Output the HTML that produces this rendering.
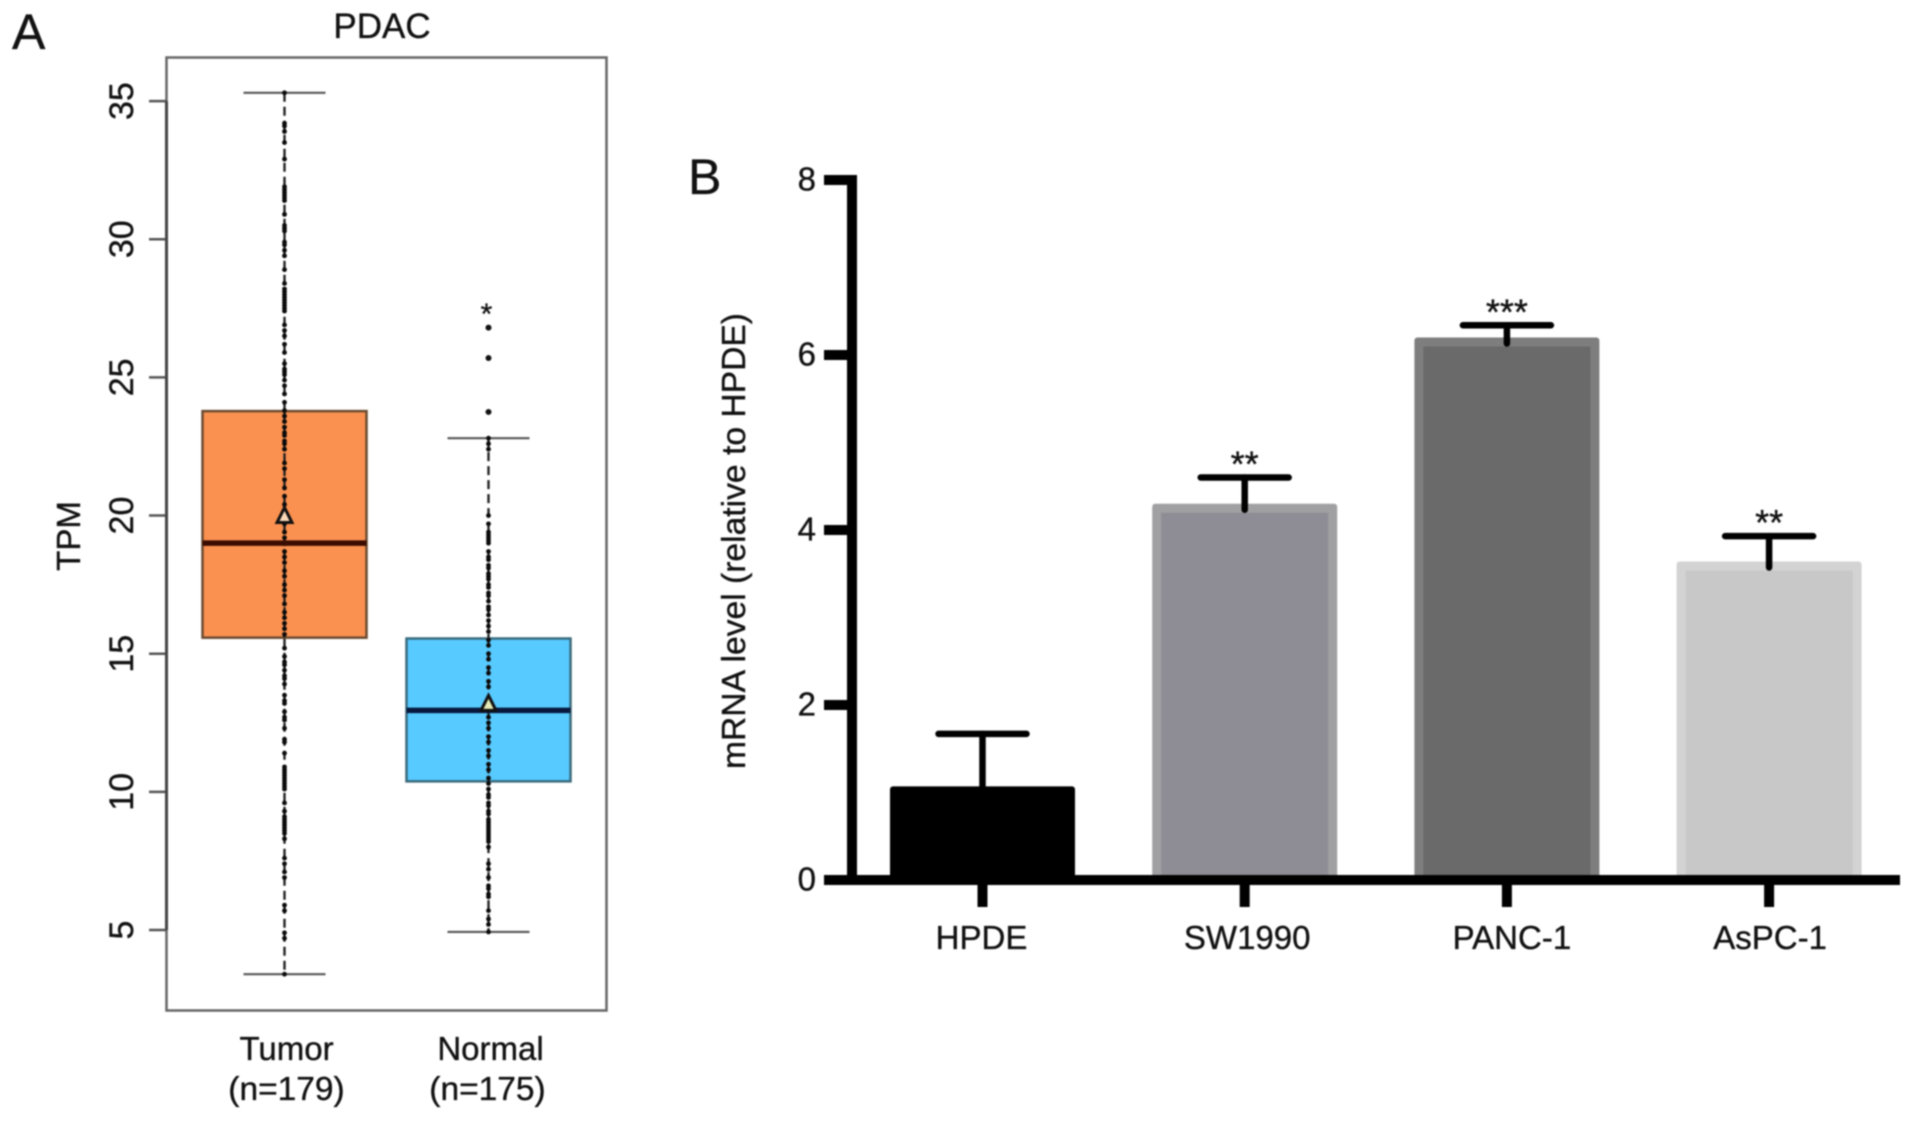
<!DOCTYPE html>
<html lang="en">
<head>
<meta charset="utf-8">
<title>PDAC expression and mRNA level</title>
<style>
html,body{margin:0;padding:0;background:#fff;width:1913px;height:1121px;overflow:hidden}
svg{display:block;filter:blur(0.7px)}
text{font-family:"Liberation Sans",Arial,sans-serif;fill:#111;stroke:#111;stroke-width:0.35px}
</style>
</head>
<body>
<svg id="fig" xmlns="http://www.w3.org/2000/svg" width="1913" height="1121" viewBox="0 0 1913 1121">
  <rect width="1913" height="1121" fill="#fff"/>
  <text x="12" y="49" font-size="50">A</text>
  <text x="688" y="194" font-size="50">B</text>
  <text x="382" y="38" font-size="35" text-anchor="middle">PDAC</text>
  <rect x="166.5" y="57.5" width="440" height="953" fill="none" stroke="#666" stroke-width="2.5"/>
  <text transform="translate(80,536) rotate(-90)" font-size="33" text-anchor="middle">TPM</text>
  <text transform="translate(745,541) rotate(-90)" font-size="33" text-anchor="middle" textLength="456" lengthAdjust="spacingAndGlyphs">mRNA level (relative to HPDE)</text>
  <g id="panelA"></g>
  <g id="panelB"></g>
</svg>
<script>
// Panel A values (TPM)
const boxGroups = ["Tumor", "Normal"];
const boxCounts = ["(n=179)", "(n=175)"];
const boxQ1 = [15.58, 10.38];
const boxQ3 = [23.78, 15.55];
const boxMedian = [19.0, 12.95];
const boxMean = [20.0, 13.2];
const boxWhiskerLow = [3.4, 4.93];
const boxWhiskerHigh = [35.3, 22.8];
const boxTicks = [5, 10, 15, 20, 25, 30, 35];
const normalOutliers = [26.8, 25.7, 23.75];
const normalStarOutliers = [27.4];
const tumorPoints = [35.3,34.2,34.1,33.9,33.5,32.9,31.9,31.8,31.7,31.6,31.5,31.4,30.9,30.5,30.4,30.3,29.9,29.8,29.6,29.4,28.9,28.4,28.2,28.1,28.0,27.9,27.8,27.7,27.6,27.5,27.4,26.9,26.7,26.5,26.2,25.9,25.5,25.3,25.2,25.1,24.9,24.7,24.4,24.1,23.8,23.6,23.4,23.2,23.0,22.9,22.7,22.6,22.4,21.9,21.7,21.3,21.0,20.7,20.4,19.7,19.4,19.2,19.0,18.7,18.5,18.3,18.0,17.8,17.5,17.3,17.1,16.8,16.5,16.3,16.1,15.9,15.7,15.2,14.9,14.7,14.6,14.4,14.2,14.1,13.9,13.5,13.3,13.2,12.9,12.7,12.6,12.3,11.9,11.8,11.4,10.9,10.8,10.7,10.6,10.5,10.4,10.3,10.2,10.1,9.6,9.3,9.1,9.0,8.9,8.8,8.7,8.6,8.5,8.3,7.6,7.4,7.1,6.9,5.9,5.7,4.9,4.7,3.4];
const normalPoints = [22.8,22.6,22.4,20.0,19.7,19.4,19.3,19.2,19.1,19.0,18.7,18.5,18.4,18.2,18.1,17.9,17.8,17.7,17.5,17.4,17.2,17.1,16.9,16.7,16.6,16.4,16.2,16.0,15.8,15.5,15.3,15.0,14.8,14.5,14.3,14.0,13.8,13.3,13.0,12.7,12.5,12.3,12.0,11.8,11.5,11.3,11.0,10.8,10.5,10.3,10.1,9.9,9.8,9.6,9.5,9.3,9.2,9.0,8.9,8.8,8.7,8.6,8.5,8.4,8.3,8.2,8.0,7.4,7.2,6.9,6.6,6.5,6.3,6.2,5.7,5.4,5.2,4.93];

// Panel B values (mRNA relative to HPDE)
const barCategories = ["HPDE", "SW1990", "PANC-1", "AsPC-1"];
const barValues = [1.07, 4.3, 6.2, 3.64];
const barErrorTops = [1.67, 4.6, 6.34, 3.93];
const barStars = ["", "**", "***", "**"];
const barTicks = [0, 2, 4, 6, 8];

const NS = "http://www.w3.org/2000/svg";
const panelA = document.getElementById("panelA");
const panelB = document.getElementById("panelB");

function yA(v){ return 930 - (v - 5) * 27.63; }
function yB(v){ return 880 - v * 87.5; }
function xA(i){ return 284.5 + i * 204; }
function xB(i){ return 982.5 + i * 262.2; }

function mk(parent, tag, attrs, txt){
  const e = document.createElementNS(NS, tag);
  for (const k in attrs) e.setAttribute(k, attrs[k]);
  if (txt !== undefined) e.textContent = txt;
  parent.appendChild(e);
  return e;
}

// ---------- Panel A ----------
const boxFills = ["#fb9150", "#57caff"];
const boxEdges = ["#6a4a30", "#3a6a7c"];
const medianColors = ["#3a0c02", "#07183e"];
const triFills = ["#fbd9b8", "#e4ebb4"];
const pointSets = [tumorPoints, normalPoints];
const labelShift = [1, 1];
const countShift = [1, -2];

boxTicks.forEach(function(t){
  const tk = mk(panelA, "line", {x1:149, x2:166.5, y1:yA(t), y2:yA(t), stroke:"#555", "stroke-width":2.5});
  
  
  const lb = mk(panelA, "text", {transform:"translate(133," + yA(t) + ") rotate(-90)", "font-size":34, "text-anchor":"middle"}, String(t));
  
  
});
const axA = mk(panelA, "line", {x1:166.5, x2:166.5, y1:yA(35), y2:yA(5), stroke:"#444", "stroke-width":3});



boxGroups.forEach(function(g, i){
  const cx = xA(i);
  const wh = mk(panelA, "line", {x1:cx, x2:cx, y1:yA(boxWhiskerHigh[i]), y2:yA(boxWhiskerLow[i]), stroke:"#222", "stroke-width":2.4, "stroke-dasharray":"9 5"});
  
  
  [boxWhiskerHigh[i], boxWhiskerLow[i]].forEach(function(v){
    const cap = mk(panelA, "line", {x1:cx - 41, x2:cx + 41, y1:yA(v), y2:yA(v), stroke:"#555", "stroke-width":2.2});
    
    
  });
  const box = mk(panelA, "rect", {x:cx - 82, y:yA(boxQ3[i]), width:164, height:yA(boxQ1[i]) - yA(boxQ3[i]), fill:boxFills[i], stroke:boxEdges[i], "stroke-width":2.5});
  
  
  const dash = mk(panelA, "line", {x1:cx, x2:cx, y1:yA(boxQ3[i]), y2:yA(boxQ1[i]), stroke:"#222", "stroke-width":2.4, "stroke-dasharray":"9 5"});
  
  
  pointSets[i].forEach(function(v){
    const p = mk(panelA, "circle", {cx:cx, cy:yA(v), r:2.4, fill:"#0a0a0a"});
    
    
  });
  const med = mk(panelA, "line", {x1:cx - 82, x2:cx + 82, y1:yA(boxMedian[i]), y2:yA(boxMedian[i]), stroke:medianColors[i], "stroke-width":5.5});
  
  
  const my = yA(boxMean[i]);
  const tri = mk(panelA, "polygon", {points:(cx - 7.5) + "," + (my + 7) + " " + (cx + 7.5) + "," + (my + 7) + " " + cx + "," + (my - 8), fill:triFills[i], stroke:"#111", "stroke-width":3});
  
  
  const l1 = mk(panelA, "text", {x:cx + labelShift[i] + 1, y:1060, "font-size":33, "text-anchor":"middle"}, g);
  
  
  const l2 = mk(panelA, "text", {x:cx + countShift[i] + 1, y:1100, "font-size":33.5, "text-anchor":"middle"}, boxCounts[i]);
  
  
});
normalOutliers.forEach(function(v){
  const o = mk(panelA, "circle", {cx:xA(1), cy:yA(v), r:3, fill:"#111"});
  
  
});
normalStarOutliers.forEach(function(v){
  const s = mk(panelA, "text", {x:xA(1) - 2, y:yA(v) + 13, "font-size":30, "text-anchor":"middle"}, "*");
  
  
});

// ---------- Panel B ----------
const barOuter = ["#000000", "#a0a0a2", "#7e7e7e", "#d3d3d3"];
const barInner = ["#000000", "#8e8d95", "#6a6a6a", "#c8c8c8"];
const xLabelShift = [-1, 2.5, 5, 1];
const barHalf = 92.5;
const barInset = 9;

barCategories.forEach(function(c, i){
  const cx = xB(i), top = yB(barValues[i]), bottom = yB(0);
  const o = mk(panelB, "rect", {x:cx - barHalf, y:top, width:barHalf * 2, height:bottom - top, rx:3, fill:barOuter[i]});
  
  
  const n = mk(panelB, "rect", {x:cx - barHalf + barInset, y:top + barInset, width:barHalf * 2 - barInset * 2, height:bottom - top - barInset, fill:barInner[i]});
  
  
  const ey = yB(barErrorTops[i]);
  const st = mk(panelB, "line", {x1:cx, x2:cx, y1:ey, y2:top + 6, stroke:"#000", "stroke-width":6.5, "stroke-linecap":"round"});
  
  
  const cp = mk(panelB, "line", {x1:cx - 44, x2:cx + 44, y1:ey, y2:ey, stroke:"#000", "stroke-width":6.5, "stroke-linecap":"round"});
  
  
  if (barStars[i]) {
    const s = mk(panelB, "text", {x:cx, y:ey - 1, "font-size":36, "text-anchor":"middle"}, barStars[i]);
    
    
  }
  const tk = mk(panelB, "line", {x1:cx, x2:cx, y1:bottom, y2:bottom + 27, stroke:"#000", "stroke-width":10});
  
  
  const lb = mk(panelB, "text", {x:cx + xLabelShift[i], y:949, "font-size":33, "text-anchor":"middle"}, c);
  
  
});
const axX = mk(panelB, "line", {x1:824, x2:1900, y1:yB(0), y2:yB(0), stroke:"#000", "stroke-width":10});


const axY = mk(panelB, "line", {x1:852, x2:852, y1:yB(8) - 5, y2:yB(0) + 5, stroke:"#000", "stroke-width":10});


barTicks.forEach(function(t){
  const tk = mk(panelB, "line", {x1:824, x2:852, y1:yB(t), y2:yB(t), stroke:"#000", "stroke-width":10});
  
  
  const lb = mk(panelB, "text", {x:816, y:yB(t) + 10.5, "font-size":33, "text-anchor":"end"}, String(t));
  
  
});
</script>
</body>
</html>
